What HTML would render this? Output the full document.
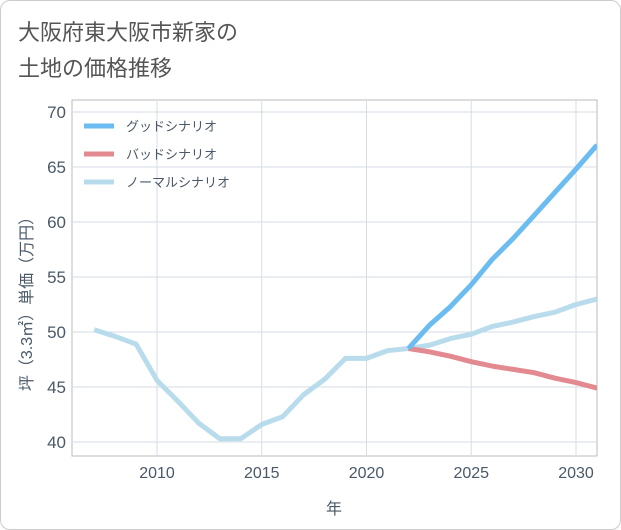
<!DOCTYPE html>
<html><head><meta charset="utf-8">
<style>
body{margin:0;background:#fff;}
.card{position:absolute;left:0;top:0;width:619px;height:528px;border:1px solid #ccc;border-radius:10px;background:#fff;}
svg text{font-family:"Liberation Sans","Noto Sans CJK JP",sans-serif;}
</style></head><body>
<div class="card"></div>
<svg id="c" width="621" height="530" style="position:absolute;left:0;top:0">
<text x="18" y="40" font-size="22" fill="#555">大阪府東大阪市新家の</text>
<text x="18" y="76" font-size="22" fill="#555">土地の価格推移</text>
</svg>
<script>
const years=[2007,2008,2009,2010,2011,2012,2013,2014,2015,2016,2017,2018,2019,2020,2021,2022,2023,2024,2025,2026,2027,2028,2029,2030,2031];
const normal=[50.2,49.6,48.9,45.6,43.7,41.7,40.3,40.3,41.6,42.3,44.3,45.7,47.6,47.6,48.3,48.5,48.8,49.4,49.8,50.5,50.9,51.4,51.8,52.5,53.0];
const goodYears=[2022,2023,2024,2025,2026,2027,2028,2029,2030,2031];
const good=[48.5,50.6,52.3,54.3,56.6,58.5,60.6,62.7,64.8,67.0];
const bad=[48.5,48.2,47.8,47.3,46.9,46.6,46.3,45.8,45.4,44.9];
const xTicks=[2010,2015,2020,2025,2030];
const yTicks=[40,45,50,55,60,65,70];
const legendLabels=["グッドシナリオ","バッドシナリオ","ノーマルシナリオ"];
const colors=["#6bbcf0","#e38a90","#b8dcec"];
const L=72,R=597,T=100,B=456;
const txt='#4a5868';
const xs=v=>157+(v-2010)*20.95;
const ys=v=>442-(v-40)*11;
const svg=document.getElementById('c');
const NS='http://www.w3.org/2000/svg';
function mk(t,a,p){const e=document.createElementNS(NS,t);for(const k in a)e.setAttribute(k,a[k]);(p||svg).appendChild(e);return e;}
const bg=mk('rect',{x:L,y:T,width:R-L,height:B-T,fill:'#fff',stroke:'#bbb'});


xTicks.forEach(v=>{const l=mk('line',{x1:xs(v),x2:xs(v),y1:T,y2:B,stroke:'#d5dde5'});


const t=mk('text',{x:xs(v),y:B+22,'font-size':16,fill:txt,'text-anchor':'middle'});t.textContent=v;

});
yTicks.forEach(v=>{const l=mk('line',{x1:L,x2:R,y1:ys(v),y2:ys(v),stroke:'#d5dde5'});


const t=mk('text',{x:L-6,y:ys(v)+6,'font-size':17,fill:txt,'text-anchor':'end'});t.textContent=v;

});
mk('clipPath',{id:'cp'});mk('rect',{x:L,y:T,width:R-L,height:B-T},svg.lastChild);
function line(xv,yv,col,name){const d=xv.map((x,i)=>(i?'L':'M')+xs(x).toFixed(1)+','+ys(yv[i]).toFixed(1)).join('');
const p=mk('path',{d:d,fill:'none',stroke:col,'stroke-width':5,'stroke-linejoin':'round','clip-path':'url(#cp)'});

}
line(years,normal,colors[2],'normal-line');
line(goodYears,bad,colors[1],'bad-line');
line(goodYears,good,colors[0],'good-line');
legendLabels.forEach((s,i)=>{const y=126+i*28;
const l=mk('line',{x1:84,x2:114,y1:y,y2:y,stroke:colors[i],'stroke-width':5});


const t=mk('text',{x:126,y:y+5,'font-size':13,fill:txt});t.textContent=s;

});
const xt=mk('text',{x:334,y:514,'font-size':16,fill:txt,'text-anchor':'middle'});xt.textContent='年';


const yt=mk('text',{x:0,y:0,'font-size':16,fill:txt,'text-anchor':'middle',transform:'translate(32,300) rotate(-90)'});yt.textContent='坪（3.3㎡）単価（万円）';


</script>
</body></html>
